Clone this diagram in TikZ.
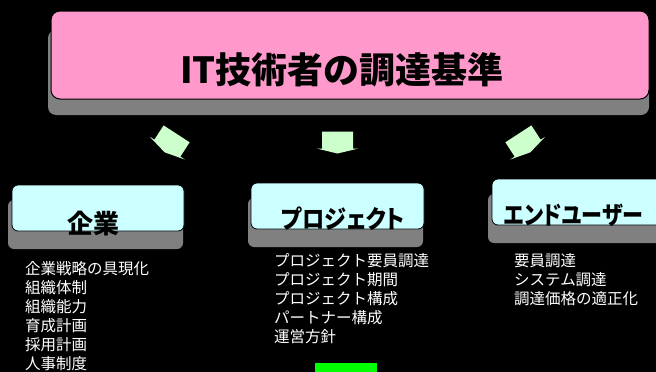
\documentclass[tikz,border=0pt]{standalone}
\usepackage{fontspec}
\newfontfamily\cjk{Noto Sans CJK JP}
\newfontfamily\cjkp{Noto Sans CJK JP}[RawFeature=+palt, FakeStretch=0.89]
\newfontfamily\cjkq{Noto Sans CJK JP}[RawFeature=+palt, FakeStretch=0.84]
\definecolor{pinkfill}{HTML}{FF99CC}
\definecolor{cyanfill}{HTML}{CCFFFF}
\definecolor{arrowfill}{HTML}{CCFFCC}
\definecolor{shadowgray}{HTML}{808080}
\definecolor{brightgreen}{HTML}{00FF00}
\tikzset{
  shadowbox/.style={fill=shadowgray, rounded corners=8pt},
  pinkbox/.style={draw=black, line width=1pt, fill=pinkfill, rounded corners=9pt, inner sep=0pt},
  cyanbox/.style={draw=black, line width=0.8pt, fill=cyanfill, rounded corners=6pt, inner sep=0pt, minimum height=46pt},
  titletext/.style={font=\cjk\bfseries\fontsize{36}{36}\selectfont, inner sep=0pt},
  headtext/.style={font=\cjkp\bfseries\fontsize{25}{25}\selectfont, inner sep=0pt},
  listtext/.style={text=white, font=\cjk\fontsize{15.5}{18.9}\selectfont, align=left, inner sep=0pt, anchor=north west},
  blockarrow/.pic={\fill[arrowfill] (-15.5,-8.5) -- (15.5,-8.5) -- (15.5,8.5) -- (21,8.5) -- (0,13.5) -- (-21,8.5) -- (-15.5,8.5) -- cycle;}
}
\begin{document}
\begin{tikzpicture}[x=1pt,y=-1pt]
\fill[black] (0,0) rectangle (656,372);
\useasboundingbox (0,0) rectangle (656,372);
% top box
\fill[shadowbox] (48,30) rectangle (649,115);
\node[pinkbox, minimum width=598pt, minimum height=88pt] (top) at (350,55) {};
\node[titletext] (title) at (342,70) {IT技術者の調達基準};
% arrows
\pic[rotate=-33] (arrowL) at (172,141) {blockarrow};
\pic (arrowM) at (337.5,140) {blockarrow};
\pic[rotate=33] (arrowR) at (523,141) {blockarrow};
% child boxes
\fill[shadowbox, rounded corners=6pt] (8,200) rectangle (183,249);
\node[cyanbox, minimum width=172pt] (kigyo) at (98,208) {};
\node[headtext, font=\cjk\bfseries\fontsize{26}{26}\selectfont] (kigyoT) at (93,223.5) {企業};
\fill[shadowbox, rounded corners=6pt] (248,198) rectangle (423,247);
\node[cyanbox, minimum width=173pt] (proj) at (337.5,206) {};
\node[headtext] (projT) at (343,219) {プロジェクト};
\fill[shadowbox, rounded corners=6pt] (488,194) rectangle (667,243);
\node[cyanbox, minimum width=176pt] (user) at (580,202) {};
\node[headtext, font=\cjkq\bfseries\fontsize{25}{25}\selectfont, anchor=west] (userT) at (504,215.5) {エンドユーザー};
% lists
\node[listtext] (listL) at (25,261.5) {企業戦略の具現化\\組織体制\\組織能力\\育成計画\\採用計画\\人事制度};
\node[listtext] (listM) at (274,253.5) {プロジェクト要員調達\\プロジェクト期間\\プロジェクト構成\\パートナー構成\\運営方針};
\node[listtext] (listR) at (514,253.5) {要員調達\\システム調達\\調達価格の適正化};
% green block
\fill[brightgreen] (315,363) rectangle (377,372);
\end{tikzpicture}
\end{document}
